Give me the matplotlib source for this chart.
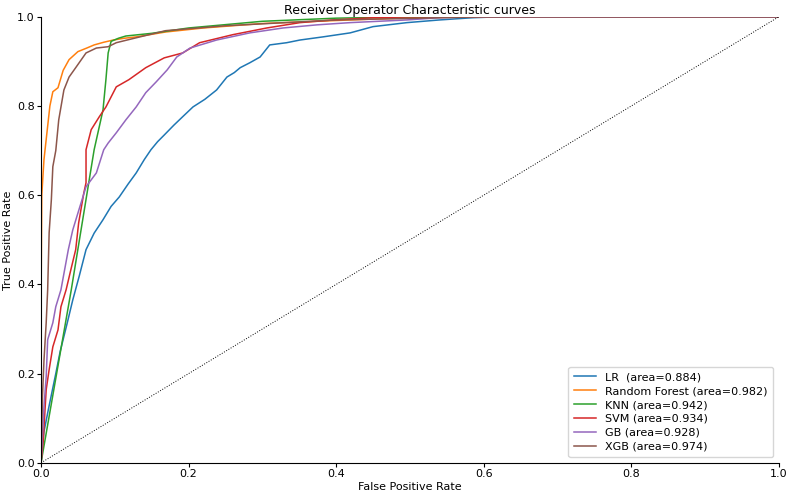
import matplotlib
matplotlib.use("Agg")
import matplotlib.pyplot as plt

# ROC points (fpr, tpr)
lr_fpr = [0, 0.004, 0.01, 0.02, 0.026, 0.035, 0.043, 0.052, 0.061, 0.072, 0.084, 0.095, 0.106, 0.118, 0.129,
          0.14, 0.149, 0.158, 0.167, 0.18, 0.192, 0.206, 0.222, 0.238, 0.252, 0.262, 0.27, 0.283, 0.297,
          0.31, 0.333, 0.351, 0.382, 0.419, 0.45, 0.496, 0.54, 0.585, 0.62, 1.0]
lr_tpr = [0, 0.07, 0.12, 0.2, 0.25, 0.31, 0.365, 0.42, 0.478, 0.515, 0.545, 0.575, 0.596, 0.625, 0.65,
          0.68, 0.702, 0.72, 0.735, 0.757, 0.776, 0.798, 0.815, 0.836, 0.865, 0.875, 0.886, 0.897, 0.91,
          0.937, 0.942, 0.948, 0.955, 0.964, 0.978, 0.987, 0.993, 0.998, 1.0, 1.0]

rf_fpr = [0, 0, 0.001, 0.004, 0.008, 0.012, 0.016, 0.023, 0.03, 0.038, 0.05, 0.062, 0.072, 0.085, 0.098,
          0.113, 0.129, 0.169, 0.22, 0.3, 0.419, 0.5, 0.56, 1.0]
rf_tpr = [0, 0.35, 0.6, 0.68, 0.74, 0.8, 0.832, 0.841, 0.88, 0.904, 0.922, 0.93, 0.937, 0.943, 0.948,
          0.952, 0.955, 0.966, 0.975, 0.985, 0.993, 0.998, 1.0, 1.0]

knn_fpr = [0, 0.041, 0.072, 0.084, 0.088, 0.091, 0.095, 0.105, 0.115, 0.15, 0.2, 0.3, 0.4, 0.5, 1.0]
knn_tpr = [0, 0.388, 0.702, 0.791, 0.86, 0.919, 0.945, 0.952, 0.957, 0.963, 0.975, 0.99, 0.997, 1.0, 1.0]

svm_fpr = [0, 0.003, 0.007, 0.011, 0.016, 0.023, 0.027, 0.034, 0.04, 0.047, 0.051, 0.058, 0.061, 0.061,
           0.068, 0.079, 0.088, 0.102, 0.119, 0.142, 0.167, 0.192, 0.215, 0.26, 0.306, 0.351, 0.396, 0.45,
           0.5, 1.0]
svm_tpr = [0, 0.05, 0.164, 0.209, 0.26, 0.298, 0.35, 0.388, 0.43, 0.478, 0.538, 0.605, 0.628, 0.702,
           0.747, 0.776, 0.798, 0.843, 0.859, 0.886, 0.908, 0.919, 0.942, 0.96, 0.975, 0.987, 0.993, 0.998,
           1.0, 1.0]

gb_fpr = [0, 0.004, 0.007, 0.009, 0.016, 0.02, 0.027, 0.037, 0.043, 0.05, 0.061, 0.075, 0.085, 0.091,
          0.102, 0.115, 0.129, 0.142, 0.156, 0.171, 0.184, 0.202, 0.238, 0.283, 0.328, 0.374, 0.419, 0.496,
          0.54, 0.58, 1.0]
gb_tpr = [0, 0.126, 0.193, 0.276, 0.314, 0.35, 0.388, 0.478, 0.522, 0.56, 0.619, 0.65, 0.702, 0.717,
          0.74, 0.769, 0.798, 0.83, 0.854, 0.881, 0.91, 0.93, 0.948, 0.964, 0.975, 0.982, 0.987, 0.993,
          0.998, 1.0, 1.0]

xgb_fpr = [0, 0.002, 0.004, 0.007, 0.009, 0.011, 0.014, 0.016, 0.02, 0.024, 0.031, 0.038, 0.047, 0.061,
           0.075, 0.091, 0.102, 0.129, 0.169, 0.25, 0.4, 0.6, 1.0]
xgb_tpr = [0, 0.15, 0.23, 0.314, 0.388, 0.516, 0.59, 0.664, 0.70, 0.769, 0.836, 0.865, 0.886, 0.919,
           0.93, 0.933, 0.942, 0.953, 0.969, 0.98, 0.993, 1.0, 1.0]

names = ["LR ", "Random Forest", "KNN", "SVM", "GB", "XGB"]
aucs = [0.884, 0.982, 0.942, 0.934, 0.928, 0.974]
curves = [(lr_fpr, lr_tpr), (rf_fpr, rf_tpr), (knn_fpr, knn_tpr),
          (svm_fpr, svm_tpr), (gb_fpr, gb_tpr), (xgb_fpr, xgb_tpr)]

plt.rcParams['font.size'] = 8

fig, ax = plt.subplots(figsize=(7.89, 4.95), dpi=100)
fig.subplots_adjust(left=0.052, right=0.987, top=0.966, bottom=0.065)

for (fpr, tpr), name, auc in zip(curves, names, aucs):
    ax.plot(fpr, tpr, lw=1.1, label="%s (area=%.3f)" % (name, auc))

ax.plot([0, 1], [0, 1], 'k:', lw=0.7)

ax.set_xlim(0, 1)
ax.set_ylim(0, 1)
ax.tick_params(length=3, pad=1.5, labelsize=8)
ax.set_xlabel("False Positive Rate", labelpad=2)
ax.set_ylabel("True Positive Rate", labelpad=3)
ax.set_title("Receiver Operator Characteristic curves", pad=2, fontsize=9)
ax.spines['top'].set_visible(False)
ax.spines['right'].set_visible(False)
ax.legend(loc="lower right", fontsize=8, labelspacing=0.35, handlelength=2.0,
          handletextpad=0.8, borderpad=0.5)

fig.savefig("out.png", dpi=100)
